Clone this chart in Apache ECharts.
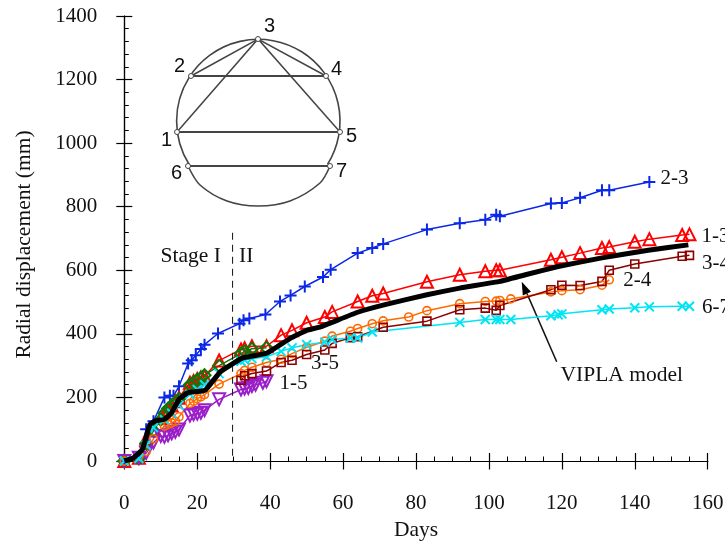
<!DOCTYPE html>
<html><head><meta charset="utf-8">
<style>html,body{margin:0;padding:0;background:#fff}#c{width:725px;height:541px}</style>
<script src="https://cdn.jsdelivr.net/npm/echarts@6/dist/echarts.min.js"></script>
</head><body><div id="c"></div>
<script>
const xTicks = [0,20,40,60,80,100,120,140,160];
const yTicks = [0,200,400,600,800,1000,1200,1400];

const days23 = [0,4,6,8,11,12.5,13.5,15,17.5,18.5,19.6,21,22,25.7,31.6,32.7,34.3,38.7,42.7,45.6,49.5,54.5,56.6,64,68,71,83,92,99,102,103,117,120,125,131,133,144];
const vals23 = [0,10,100,125,200,205,205,235,307,317,333,352,366,401,432,443,448,461,502,521,549,579,602,654,670,683,728,748,759,775,770,810,812,828,852,852,878];

const days13 = [0,4,6,8,10,11,12,13,14,15,18,19,20,21,22,26,32,33,35,39,43,46,50,55,57,64,68,71,83,92,99,102,103,117,120,125,131,133,140,144,153,155];
const vals13 = [0,10,70,100,135,150,162,175,188,199,246,252,258,263,267,316,351,355,361,361,396,411,435,453,469,502,520,527,564,586,597,600,600,633,641,654,670,673,690,698,711,713];

const days35 = [0,4,6,8,10,11,12,13,14,15,18,19,20,21,22,26,32,33,35,39];
const vals35 = [0,8,55,95,130,150,165,175,185,195,240,248,255,262,270,300,338,345,353,356];

const days15 = [0,4,6,8,10,11,12,13,14,15,18,19,20,21,22,26,32,33,34,35,36,38,39];
const vals15 = [0,10,25,58,79,76,81,87,92,99,143,147,149,152,160,194,225,228,230,236,240,246,251];

const days24 = [0,4,6,8,11,12,13,14,15,18,19,20,21,22,26,32,33,35,39,43,46,50,55,57,62,64,68,71,78,83,92,99,102,103,106,117,120,125,131,133];
const vals24 = [0,15,30,70,110,115,120,125,139,181,188,196,202,209,242,275,285,295,310,320,338,358,377,393,408,417,432,441,453,473,495,502,503,505,510,532,536,539,553,570];

const days34 = [32,33,35,39,43,46,50,55,57,62,64,71,83,92,99,102,103,117,120,125,131,133,140,153,155];
const vals34 = [254,268,275,283,310,317,335,349,370,388,391,421,440,476,481,474,489,539,553,552,565,600,620,644,647];

const days67 = [0,4,6,8,11,13,15,18,20,22,26,32,33,35,39,43,46,50,55,57,62,64,68,92,99,102,103,106,117,119,120,131,133,140,144,153,155];
const vals67 = [0,8,50,105,130,150,175,210,225,240,275,314,318,322,328,345,356,366,374,382,387,387,406,436,445,445,445,445,457,460,463,476,478,482,485,487,487];

const daysModel = [0,2.5,5,7,8.5,11,13,15,17.5,22.2,26.3,32.2,39,45.5,50,53.8,64,71.5,83,92,103,110,119,131,143.7,154.7];
const valsModel = [0,10,37,115,126,131,152,194,215,223,280,323,339,386,411,422,468,492,523,544,565,586,612,639,663,680];

const stageDays = [29.7,29.7];
const stageVals = [718,0];

const pair = (d,v) => d.map((x,i)=>[x,v[i]]);
const PLUS = 'path://M0 5L10 5M5 0L5 10';
const CROSS = 'path://M1 1L9 9M9 1L1 9';
const serif = 'Liberation Serif';

function line(name,d,v,color,symbol,size,rot,bw){
  return {name,type:'line',data:pair(d,v),symbol,symbolSize:size,symbolRotate:rot||0,showAllSymbol:true,
    lineStyle:{color,width:1.5},
    itemStyle:{color:'rgba(0,0,0,0)',borderColor:color,borderWidth:bw||1.6},emphasis:{disabled:true},animation:false};
}

const txt = (x,y,s,size,font)=>({type:'text',x,y,silent:true,style:{text:s,fill:'#111',font:`${size}px "${font}"`,textAlign:'left',textVerticalAlign:'middle'}});

const lower = [[188,166],[200,185],[227,201],[258,206],[290,201],[320,183],[330,166]];
const chord = (pts,w)=>({type:'polyline',silent:true,shape:{points:pts},style:{stroke:'#444',fill:'none',lineWidth:w||1.5}});
const nodes = [[258,39],[191,76],[326,76],[177,132],[340,132],[188,166],[330,166]];

const graphic = [
  {type:'arc',silent:true,shape:{cx:258.3,cy:121,r:81.7,startAngle:0.56,endAngle:2.58,clockwise:false},style:{stroke:'#444',fill:'none',lineWidth:1.6}},
  {type:'polyline',silent:true,shape:{points:lower,smooth:0.3},style:{stroke:'#444',fill:'none',lineWidth:1.6}},
  chord([[191,76],[258,39],[326,76]]),
  chord([[177,132],[258,39],[340,132]]),
  chord([[191,76],[326,76]],1.8),
  chord([[177,132],[340,132]],1.8),
  chord([[188,166],[330,166]],1.8),
  ...nodes.map(p=>({type:'circle',silent:true,shape:{cx:p[0],cy:p[1],r:2.5},style:{fill:'#fff',stroke:'#444',lineWidth:1}})),
  txt(264,26,'3',20,'Liberation Sans'),
  txt(174,66,'2',20,'Liberation Sans'),
  txt(331,69,'4',20,'Liberation Sans'),
  txt(161,140,'1',20,'Liberation Sans'),
  txt(346,136,'5',20,'Liberation Sans'),
  txt(171,173,'6',20,'Liberation Sans'),
  txt(336,171,'7',20,'Liberation Sans'),
  txt(160.5,256,'Stage I',21.5,serif),
  txt(239,256,'II',21.5,serif),
  txt(660.5,178,'2-3',21,serif),
  txt(701.5,236,'1-3',21,serif),
  txt(702,263.5,'3-4',21,serif),
  txt(623.3,280,'2-4',21,serif),
  txt(702,307,'6-7',21,serif),
  txt(311,363,'3-5',21,serif),
  txt(279.5,383,'1-5',21,serif),
  txt(560.5,375.5,'VIPLA model',21.5,serif),
  {type:'line',silent:true,shape:{x1:556.7,y1:361.7,x2:527,y2:293.6},style:{stroke:'#111',lineWidth:1.5}},
  {type:'polygon',silent:true,shape:{points:[[521.7,281.7],[531,291.8],[522.8,295.4]]},style:{fill:'#000'}}
];

const axisTxt = {fontFamily:serif,fontSize:21,color:'#111'};
const axLine = {show:true,onZero:false,lineStyle:{color:'#000',width:1.2}};
const option = {
  animation:false,backgroundColor:'#fff',
  grid:{left:124.3,right:17.3,top:16,bottom:80,containLabel:false,outerBoundsMode:'none'},
  xAxis:[
    {type:'value',min:0,max:160,interval:20,position:'bottom',splitLine:{show:false},axisLine:axLine,
     axisTick:{show:true,length:8.5,inside:false,lineStyle:{color:'#000',width:1.2}},minorTick:{show:false},
     axisLabel:Object.assign({margin:32,formatter:v=>xTicks.includes(v)?String(v):'',showMinLabel:true,showMaxLabel:true},axisTxt),
     name:'Days',nameLocation:'middle',nameGap:57.5,nameTextStyle:Object.assign({},axisTxt,{fontSize:21.5})},
    {type:'value',min:0,max:160,interval:20,position:'bottom',splitLine:{show:false},axisLine:axLine,
     axisTick:{show:true,length:8,inside:true,lineStyle:{color:'#000',width:1.2}},
     minorTick:{show:true,splitNumber:4,length:4.5,lineStyle:{color:'#000',width:1}},axisLabel:{show:false}}
  ],
  yAxis:[
    {type:'value',min:0,max:1400,interval:200,position:'left',splitLine:{show:false},axisLine:axLine,
     axisTick:{show:true,length:8,inside:false,lineStyle:{color:'#000',width:1.2}},minorTick:{show:false},
     axisLabel:Object.assign({margin:27,formatter:v=>yTicks.includes(v)?String(v):'',showMinLabel:true,showMaxLabel:true},axisTxt),
     name:'Radial displacement (mm)',nameLocation:'middle',nameGap:89,nameTextStyle:Object.assign({},axisTxt,{fontSize:21.5,padding:[0,12,0,0]})},
    {type:'value',min:0,max:1400,interval:200,position:'left',splitLine:{show:false},axisLine:axLine,
     axisTick:{show:true,length:8,inside:true,lineStyle:{color:'#000',width:1.2}},
     minorTick:{show:true,splitNumber:5,length:4.5,lineStyle:{color:'#000',width:1}},axisLabel:{show:false}}
  ],
  series:[
    line('2-3',days23,vals23,'#0a28e6',PLUS,12,0,2),
    line('1-3',days13,vals13,'#ff0000','triangle',12,0,2),
    line('3-5',days35,vals35,'#0a7a0a','diamond',12,0,2),
    line('1-5',days15,vals15,'#9a1fc8','triangle',12,180,2),
    line('2-4',days24,vals24,'#ff6a00','circle',8),
    line('3-4',days34,vals34,'#8b0000','rect',8),
    line('6-7',days67,vals67,'#00e5f5',CROSS,9,0,2),
    {name:'VIPLA model',type:'line',data:pair(daysModel,valsModel),symbol:'none',smooth:0.1,lineStyle:{color:'#000',width:5},animation:false,z:5},
    {name:'Stage boundary',type:'line',data:pair(stageDays,stageVals),symbol:'none',lineStyle:{color:'#111',width:1,type:[7,5]},animation:false}
  ],
  graphic
};
echarts.init(document.getElementById('c'),null,{renderer:'canvas'}).setOption(option);
</script></body></html>
